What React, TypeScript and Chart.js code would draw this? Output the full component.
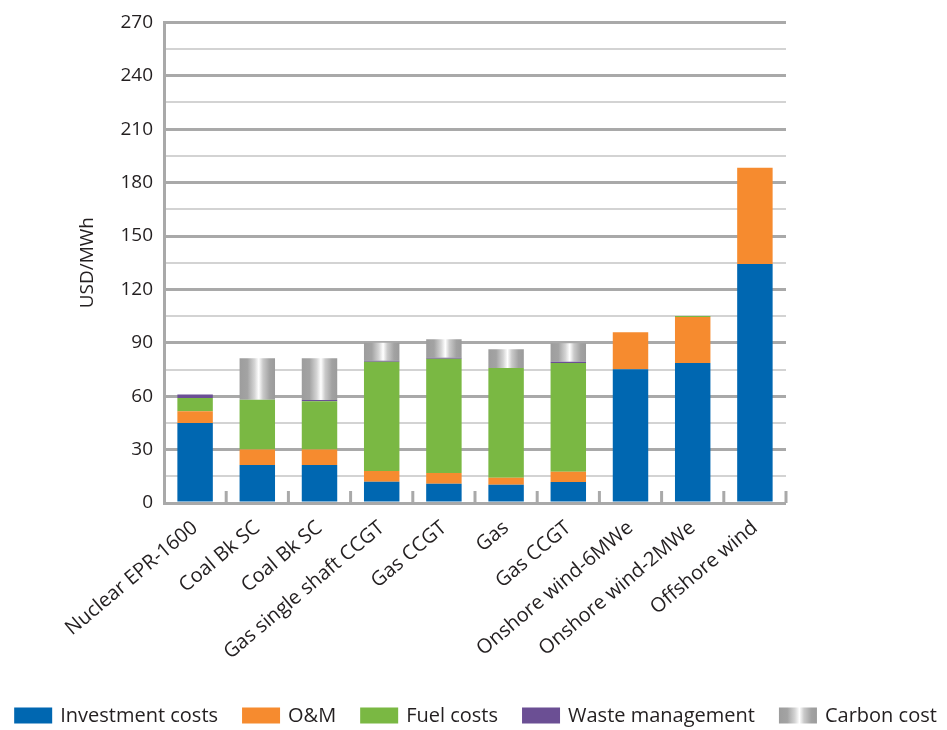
import React, { useEffect, useRef } from 'react';
import { Chart, registerables } from 'chart.js';

Chart.register(...registerables);

const categories = [
  'Nuclear EPR-1600',
  'Coal Bk SC',
  'Coal Bk SC',
  'Gas single shaft CCGT',
  'Gas CCGT',
  'Gas',
  'Gas CCGT',
  'Onshore wind-6MWe',
  'Onshore wind-2MWe',
  'Offshore wind',
];
const investmentCosts = [45, 21.3, 21.3, 12, 10.8, 10.3, 11.8, 75.2, 78.7, 134.2];
const omCosts = [6.5, 8.7, 8.7, 6, 6, 3.9, 5.8, 20.7, 25.8, 54.2];
const fuelCosts = [7.5, 28, 27.2, 61.3, 64.2, 61.7, 61.1, 0, 0.5, 0];
const wasteManagement = [2, 0, 0.6, 0.6, 0.6, 0, 0.6, 0, 0, 0];
const carbonCost = [0, 23.3, 23.5, 10.1, 10.4, 10.5, 10.4, 0, 0, 0];
const yMax = 270;
const yMinorStep = 15;
const yMajorStep = 30;

const FONT = "'Open Sans', Lato, sans-serif";
const FONT_SIZE = 19;
const LABEL_FONT_SIZE = 20;
const TEXT = '#231f20';
const MAJOR = '#a9a9a9';
const MINOR = '#d3d3d3';
const BAR_PCT = 0.57;

const W = 947;
const H = 730;
const PLOT_LEFT = 164;
const PLOT_RIGHT = 786;
const PLOT_TOP = 22;
const PLOT_BOTTOM = 503;

const LEGEND_BOX_W = 38;
const LEGEND_BOX_H = 16;
const LEGEND_TEXT_GAP = 8;
const LEGEND_ITEM_GAP = 24;
const LEGEND_CENTER_Y = 715.5;

function metalGradient(ctx: CanvasRenderingContext2D, x0: number, x1: number) {
  const g = ctx.createLinearGradient(x0, 0, x1, 0);
  g.addColorStop(0, '#9d9d9d');
  g.addColorStop(0.22, '#a3a3a3');
  g.addColorStop(0.42, '#d4d4d4');
  g.addColorStop(0.54, '#ffffff');
  g.addColorStop(0.66, '#cacaca');
  g.addColorStop(0.85, '#a2a2a2');
  g.addColorStop(1, '#9b9b9b');
  return g;
}

const carbonFill = (c: any) => {
  const chart = c.chart;
  const xs = chart.scales && chart.scales.x;
  if (!chart.chartArea || c.dataIndex === undefined || !xs) return '#b5b5b5';
  const cx = xs.getPixelForValue(c.dataIndex);
  const half = ((chart.chartArea.width / categories.length) * BAR_PCT) / 2;
  return metalGradient(chart.ctx, cx - half, cx + half);
};

const decorPlugin = {
  id: 'decor',
  beforeDatasetsDraw(chart: any) {
    const { ctx, chartArea } = chart;
    const n = categories.length;
    const step = chartArea.width / n;
    ctx.save();
    ctx.strokeStyle = MAJOR;
    ctx.lineWidth = 3;
    for (let i = 1; i <= n; i++) {
      const x = chartArea.left + i * step;
      ctx.beginPath();
      ctx.moveTo(x, chartArea.bottom);
      ctx.lineTo(x, chartArea.bottom - 12);
      ctx.stroke();
    }
    ctx.restore();
  },
  afterDraw(chart: any) {
    const ctx = chart.ctx as CanvasRenderingContext2D;
    const sets = chart.data.datasets;
    ctx.save();
    ctx.font = `${LABEL_FONT_SIZE}px ${FONT}`;
    const widths = sets.map((d: any) => ctx.measureText(d.label).width);
    let total = 0;
    widths.forEach((w: number, i: number) => {
      total += LEGEND_BOX_W + LEGEND_TEXT_GAP + w + (i < widths.length - 1 ? LEGEND_ITEM_GAP : 0);
    });
    let x = (chart.width - total) / 2 + 2;
    const boxTop = LEGEND_CENTER_Y - LEGEND_BOX_H / 2;
    sets.forEach((d: any, i: number) => {
      ctx.fillStyle =
        typeof d.backgroundColor === 'function' ? metalGradient(ctx, x, x + LEGEND_BOX_W) : d.backgroundColor;
      ctx.fillRect(x, boxTop, LEGEND_BOX_W, LEGEND_BOX_H);
      x += LEGEND_BOX_W + LEGEND_TEXT_GAP;
      ctx.fillStyle = TEXT;
      ctx.textBaseline = 'middle';
      ctx.textAlign = 'left';
      ctx.fillText(d.label, x, LEGEND_CENTER_Y + 1);
      x += widths[i] + LEGEND_ITEM_GAP;
    });
    ctx.restore();
  },
};

export default function App() {
  const ref = useRef<HTMLCanvasElement | null>(null);

  useEffect(() => {
    if (!ref.current) return;
    const common = { stack: 's', barPercentage: BAR_PCT, categoryPercentage: 1, borderWidth: 0 };
    const chart = new Chart(ref.current, {
      type: 'bar',
      data: {
        labels: categories,
        datasets: [
          { label: 'Investment costs', data: investmentCosts, backgroundColor: '#0067b1', ...common },
          { label: 'O&M', data: omCosts, backgroundColor: '#f68b2f', ...common },
          { label: 'Fuel costs', data: fuelCosts, backgroundColor: '#7ab843', ...common },
          { label: 'Waste management', data: wasteManagement, backgroundColor: '#6b4f94', ...common },
          { label: 'Carbon cost', data: carbonCost, backgroundColor: carbonFill as any, ...common },
        ],
      },
      options: {
        animation: false,
        responsive: false,
        devicePixelRatio: 1,
        layout: { padding: { top: PLOT_TOP, left: 0, right: 0, bottom: 0 } },
        plugins: {
          tooltip: { enabled: false },
          legend: { display: false },
        },
        scales: {
          x: {
            stacked: true,
            grid: { display: true, drawOnChartArea: false, drawTicks: false },
            border: { display: false },
            ticks: {
              autoSkip: false,
              maxRotation: 40,
              minRotation: 40,
              padding: 13,
              color: TEXT,
              font: { family: FONT, size: LABEL_FONT_SIZE },
            },
            afterFit: (s: any) => {
              s.height = H - PLOT_BOTTOM;
            },
          },
          y: {
            stacked: true,
            min: 0,
            max: yMax,
            ticks: {
              stepSize: yMinorStep,
              padding: 11,
              color: TEXT,
              font: { family: FONT, size: FONT_SIZE },
              callback: (v: any) => (Number(v) % yMajorStep === 0 ? String(v) : ''),
            },
            grid: {
              drawTicks: false,
              color: (c: any) => (c.tick && c.tick.value % yMajorStep === 0 ? MAJOR : MINOR),
              lineWidth: (c: any) => (c.tick && c.tick.value % yMajorStep === 0 ? 3 : 2),
            },
            border: { display: true, color: MAJOR, width: 3 },
            title: {
              display: true,
              text: 'USD/MWh',
              color: TEXT,
              font: { family: FONT, size: FONT_SIZE },
              padding: { top: 76, bottom: 0 },
            },
            afterFit: (s: any) => {
              s.width = PLOT_LEFT;
            },
          },
          yRight: {
            position: 'right',
            display: true,
            min: 0,
            max: yMax,
            ticks: { display: false },
            grid: { display: false, drawTicks: false },
            border: { display: false },
            afterFit: (s: any) => {
              s.width = W - PLOT_RIGHT;
            },
          },
        },
      } as any,
      plugins: [decorPlugin],
    });
    return () => chart.destroy();
  }, []);

  return (
    <div style={{ position: 'fixed', left: 0, top: 0, width: W, height: H, background: '#fff' }}>
      <canvas ref={ref} width={W} height={H} style={{ width: W, height: H, display: 'block' }} />
    </div>
  );
}
